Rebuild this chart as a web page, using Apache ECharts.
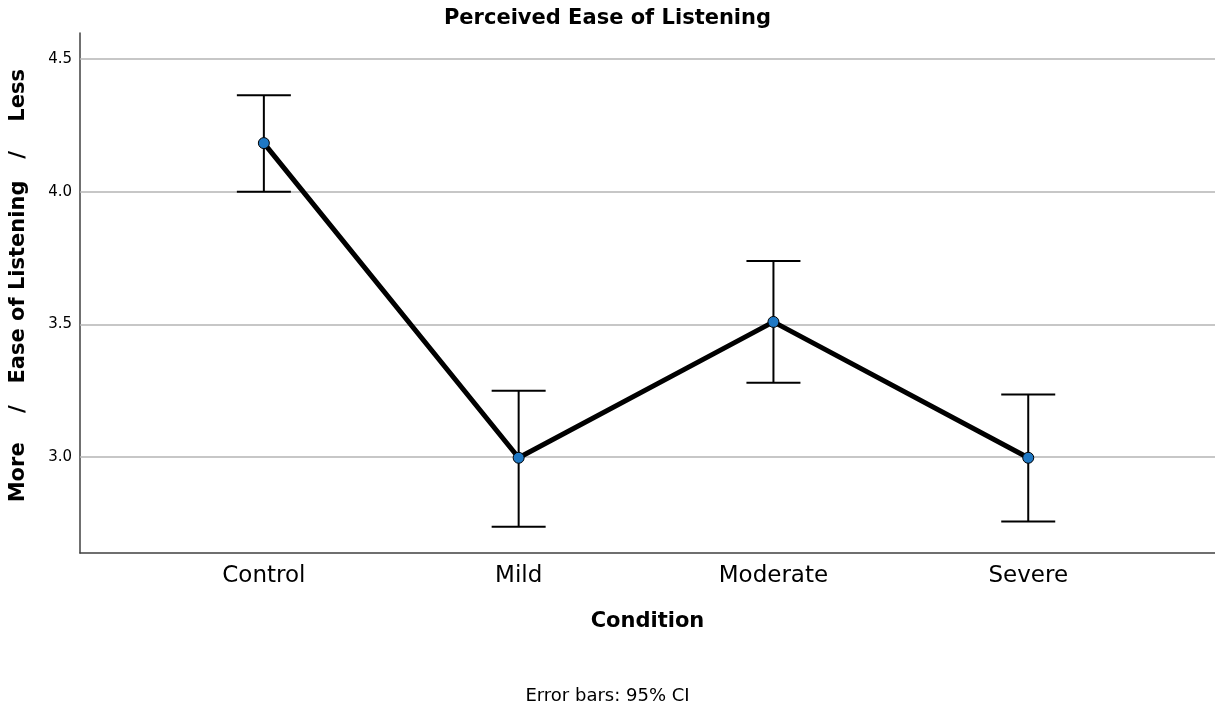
<!DOCTYPE html>
<html>
<head>
<meta charset="utf-8">
<script src="https://cdn.jsdelivr.net/npm/echarts@6/dist/echarts.min.js"></script>
<style>html,body{margin:0;padding:0;background:#fff;}#c{width:1215px;height:713px;}</style>
</head>
<body>
<div id="c"></div>
<script>
const categories = ['Control', 'Mild', 'Moderate', 'Severe'];
const means = [4.183, 2.997, 3.509, 2.997];
const ciLower = [4.000, 2.737, 3.280, 2.757];
const ciUpper = [4.363, 3.250, 3.739, 3.235];
const yTicks = [3.0, 3.5, 4.0, 4.5];

const FONT = 'DejaVu Sans';
const chart = echarts.init(document.getElementById('c'));

const lineData = means.map((v, i) => [i, v]);
const errData = categories.map((c, i) => [i, ciLower[i], ciUpper[i]]);

chart.setOption({
  animation: false,
  backgroundColor: '#ffffff',
  title: {
    text: 'Perceived Ease of Listening',
    left: 'center', top: 3,
    textStyle: { fontFamily: FONT, fontSize: 21, fontWeight: 'bold', color: '#000' }
  },
  graphic: [{
    type: 'text', left: 'center', top: 687,
    style: { text: 'Error bars: 95% CI', font: '18px "DejaVu Sans"', fill: '#000' }
  }],
  grid: { left: 78, right: 0, top: 33, bottom: 160, containLabel: false },
  xAxis: {
    type: 'value',
    min: -0.7216, max: 3.733,
    name: 'Condition', nameLocation: 'middle', nameGap: 58,
    nameTextStyle: { fontFamily: FONT, fontSize: 21, fontWeight: 'bold', color: '#000' },
    axisLine: { show: true, onZero: false, lineStyle: { color: '#404040', width: 1.5 } },
    axisTick: { show: false },
    splitLine: { show: false },
    axisLabel: {
      customValues: [0, 1, 2, 3],
      formatter: v => categories[Math.round(v)] || '',
      fontFamily: FONT, fontSize: 23, color: '#000', margin: 12
    }
  },
  yAxis: {
    type: 'value',
    min: 2.638, max: 4.598,
    name: '  More    /   Ease of Listening   /    Less', nameLocation: 'middle', nameGap: 51,
    nameTextStyle: { fontFamily: FONT, fontSize: 21, fontWeight: 'bold', color: '#000' },
    axisLine: { show: true, onZero: false, lineStyle: { color: '#404040', width: 1.5 } },
    axisTick: { show: false },
    axisLabel: {
      customValues: yTicks,
      formatter: v => v.toFixed(1),
      fontFamily: FONT, fontSize: 15, color: '#000', margin: 8
    },
    splitLine: { show: false }
  },
  series: [
    {
      type: 'custom',
      data: errData,
      z: 2,
      renderItem: function (params, api) {
        const x = api.value(0);
        const lo = api.coord([x, api.value(1)]);
        const hi = api.coord([x, api.value(2)]);
        const hw = 27;
        const st = { stroke: '#000', lineWidth: 2 };
        return {
          type: 'group',
          children: [
            { type: 'line', shape: { x1: lo[0], y1: lo[1], x2: hi[0], y2: hi[1] }, style: st },
            { type: 'line', shape: { x1: lo[0] - hw, y1: lo[1], x2: lo[0] + hw, y2: lo[1] }, style: st },
            { type: 'line', shape: { x1: hi[0] - hw, y1: hi[1], x2: hi[0] + hw, y2: hi[1] }, style: st }
          ]
        };
      },
      markLine: {
        silent: true,
        symbol: ['none', 'none'],
        label: { show: false },
        lineStyle: { color: '#b4b4b4', width: 1.5, type: 'solid' },
        z: 1,
        data: yTicks.map(v => ({ yAxis: v }))
      }
    },
    {
      type: 'line',
      data: lineData,
      z: 3,
      symbol: 'circle', symbolSize: 11,
      lineStyle: { color: '#000', width: 5 },
      itemStyle: { color: '#1f78c4', borderColor: '#000', borderWidth: 1 }
    }
  ]
});
</script>
</body>
</html>
